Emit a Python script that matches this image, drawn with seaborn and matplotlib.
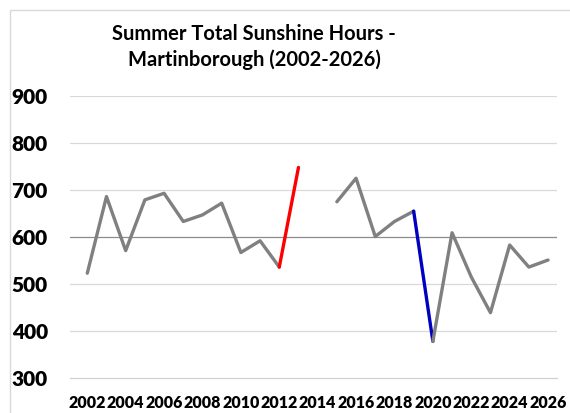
import seaborn as sns
import matplotlib.pyplot as plt
import pandas as pd
import numpy as np
from matplotlib.patches import Rectangle

# Summer sunshine hours, Martinborough (2014 missing)
years = list(range(2002, 2027))
hours = [523, 686, 571, 679, 693, 633, 647, 672, 567, 592, 536, 748,
         None, 675, 725, 601, 633, 655, 378, 609, 515, 439, 583, 536, 551]

# line segments: (name, first year, last year, colour)
segments = [
    ('s1', 2002, 2012, '#808080'),
    ('rise', 2012, 2013, '#FF0000'),
    ('s2', 2015, 2019, '#808080'),
    ('drop', 2019, 2020, '#0000C0'),
    ('s3', 2020, 2026, '#808080'),
]
even_years = list(range(2002, 2027, 2))
y_ticks = [300, 400, 500, 600, 700, 800, 900]

df = pd.DataFrame({'Year': years, 'Hours': hours})
rows = []
for name, y0, y1, _ in segments:
    part = df[(df['Year'] >= y0) & (df['Year'] <= y1)].copy()
    part['seg'] = name
    rows.append(part)
long_df = pd.concat(rows, ignore_index=True)
palette = {name: c for name, _, _, c in segments}

sns.set_style("white")
plt.rcParams['font.family'] = ['Lato', 'DejaVu Sans']

fig = plt.figure(figsize=(5.7, 4.13), dpi=100)
ax = fig.add_axes([70 / 570, 1 - 378 / 413, (556.7 - 70) / 570, (378 - 96) / 413])

sns.lineplot(data=long_df, x='Year', y='Hours', hue='seg', palette=palette,
             estimator=None, legend=False, linewidth=2.4, ax=ax)

ax.set_xlim(2001.1, 2026.45)
ax.set_ylim(300, 900)
ax.set_yticks(y_ticks)
ax.set_yticklabels([str(v) for v in y_ticks], fontsize=15, fontweight='heavy', color='black')
ax.set_xticks(even_years)
ax.set_xticklabels([str(v) for v in even_years], fontsize=11.5, fontweight='heavy', color='black')
ax.set_xticks(np.arange(2002.5, 2026.5, 1.0), minor=True)
ax.tick_params(axis='x', which='major', length=0, pad=12)
ax.tick_params(axis='x', which='minor', length=4, color='#d0d0d0', width=0.8)
ax.tick_params(axis='y', length=0, pad=16)
ax.set_xlabel('')
ax.set_ylabel('')

for v in y_ticks[1:]:
    ax.axhline(v, color='#8c8c8c' if v == 600 else '#d9d9d9', linewidth=0.9, zorder=0)

for s in ['top', 'right', 'left']:
    ax.spines[s].set_visible(False)
ax.spines['bottom'].set_color('#d0d0d0')
ax.spines['bottom'].set_linewidth(0.9)

fig.text(254 / 570, 1 - 47 / 413, 'Summer Total Sunshine Hours -\nMartinborough (2002-2026)',
         ha='center', va='center', fontsize=14.5, fontweight='bold', color='black',
         linespacing=1.3)

fig.patches.append(Rectangle((10 / 570, -0.1), 1.2, 1 - 10 / 413 + 0.1,
                             transform=fig.transFigure, fill=False,
                             edgecolor='#d9d9d9', linewidth=1))

plt.savefig('out.png', dpi=100)
